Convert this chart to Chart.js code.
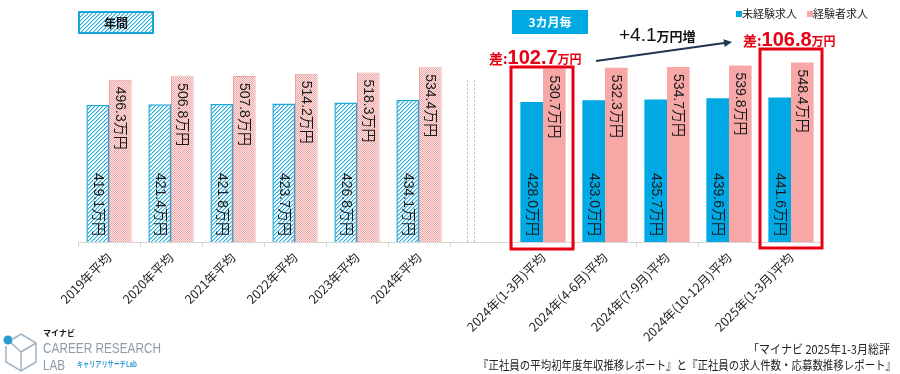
<!DOCTYPE html>
<html><head><meta charset="utf-8">
<style>html,body{margin:0;padding:0;background:#fff;}#wrap{width:900px;height:374px;}</style>
<script src="https://cdn.jsdelivr.net/npm/chart.js@4"></script>
</head><body><div id="wrap"><canvas id="c" width="900" height="374"></canvas></div>
<script>
// ---- data ----
const categories = ['2019年平均','2020年平均','2021年平均','2022年平均','2023年平均','2024年平均','','2024年(1-3月)平均','2024年(4-6月)平均','2024年(7-9月)平均','2024年(10-12月)平均','2025年(1-3月)平均'];
const inexperienced = [419.1,421.4,421.8,423.7,426.8,434.1,null,428.0,433.0,435.7,439.6,441.6];
const experienced   = [496.3,506.8,507.8,514.2,518.3,534.4,null,530.7,532.3,534.7,539.8,548.4];
const seriesNames = ['未経験求人','経験者求人'];
const annualCount = 6;
const valueUnit = '万円';
const diffValues = ['102.7','106.8'];
const increaseValue = '+4.1';
const groupLabels = ['年間','3カ月毎'];
const sourceLines = ['「マイナビ 2025年1-3月総評','『正社員の平均初年度年収推移レポート』と『正社員の求人件数・応募数推移レポート』'];

// ---- styles ----
const CYAN = '#00A9E4', PINK = '#F8A7A7', RED = '#E60012';
function makePattern(fn, size){
  const c = document.createElement('canvas'); c.width = c.height = size;
  const x = c.getContext('2d'); fn(x, size); return x.createPattern(c, 'repeat');
}
const cyanHatch = makePattern((x,s)=>{
  x.fillStyle='#fff'; x.fillRect(0,0,s,s);
  for(let i=0;i<s;i++)for(let j=0;j<s;j++){
    const k=(i+j)%4;
    if(k===0){x.fillStyle='#2BADD8';x.fillRect(i,j,1,1);}
    else if(k===1){x.fillStyle='#9BD8EE';x.fillRect(i,j,1,1);}
  }
},8);
const pinkHatch = makePattern((x,s)=>{
  for(let i=0;i<s;i++)for(let j=0;j<s;j++){
    x.fillStyle=((i+j)%2===0)?'#F0A4A4':'#FCE6E6'; x.fillRect(i,j,1,1);
  }
},4);

const FONT_NUM = '"Liberation Sans","Noto Sans CJK JP",sans-serif';
const FONT_JP = '"Noto Sans CJK JP","Liberation Sans",sans-serif';

const labelPlugin = {
  id:'vlabels',
  afterDatasetsDraw(chart){
    const ctx = chart.ctx;
    ctx.save();
    ctx.font = '14px ' + FONT_NUM;
    ctx.fillStyle = '#1a1a1a';
    ctx.textBaseline = 'middle';
    chart.data.datasets.forEach((ds,di)=>{
      chart.getDatasetMeta(di).data.forEach((bar,i)=>{
        const v = ds.data[i]; if(v==null) return;
        const t = v.toFixed(1) + valueUnit;
        ctx.save();
        if(di===0){ ctx.translate(bar.x, bar.base); ctx.rotate(Math.PI/2); ctx.textAlign='right'; ctx.fillText(t,-6,0); }
        else { ctx.translate(bar.x, bar.y); ctx.rotate(Math.PI/2); ctx.textAlign='left'; ctx.fillText(t,7,0); }
        ctx.restore();
      });
    });
    ctx.restore();
  }
};

function richText(ctx, x, y, parts){
  let cx = x;
  parts.forEach(p=>{ ctx.font = p[1]; ctx.fillText(p[0], cx, y); cx += ctx.measureText(p[0]).width; });
}

const annotPlugin = {
  id:'annot',
  afterDraw(chart){
    const ctx = chart.ctx, xs = chart.scales.x, ya = chart.chartArea;
    ctx.save();
    // dashed separators
    ctx.strokeStyle = '#BDBDBD'; ctx.lineWidth = 1; ctx.setLineDash([2,2]);
    [467.5, 474.5].forEach(px=>{ ctx.beginPath(); ctx.moveTo(px,80); ctx.lineTo(px,ya.bottom); ctx.stroke(); });
    ctx.setLineDash([]);
    // group boxes
    ctx.fillStyle = cyanHatch; ctx.fillRect(78,11,76,23);
    ctx.strokeStyle = '#1AA6D8'; ctx.lineWidth = 2; ctx.strokeRect(79,12,74,21);
    ctx.fillStyle = '#111'; ctx.font = 'bold 12px ' + FONT_JP; ctx.textAlign='center'; ctx.textBaseline='middle';
    ctx.fillText(groupLabels[0], 116, 23);
    ctx.fillStyle = CYAN; ctx.fillRect(512,10,76,24);
    ctx.fillStyle = '#fff'; ctx.fillText(groupLabels[1], 550, 22);
    // legend
    ctx.textAlign='left'; ctx.font = '11px ' + FONT_JP; ctx.textBaseline='middle';
    ctx.fillStyle = CYAN; ctx.fillRect(736,11,6,6);
    ctx.fillStyle = '#222'; ctx.fillText(seriesNames[0], 742, 14);
    ctx.fillStyle = PINK; ctx.fillRect(807,11,6,6);
    ctx.fillStyle = '#222'; ctx.fillText(seriesNames[1], 813, 14);
    // red boxes
    ctx.strokeStyle = RED; ctx.lineWidth = 3;
    const c1 = xs.getPixelForValue(7), c2 = xs.getPixelForValue(11);
    ctx.strokeRect(c1-32, 67, 62, 182);
    ctx.strokeRect(c2-31, 49, 62, 199);
    // diff labels
    ctx.fillStyle = RED; ctx.textBaseline='alphabetic';
    richText(ctx, 489, 64, [['差:','bold 14px '+FONT_JP],[diffValues[0],'bold 20px '+FONT_NUM],[valueUnit,'bold 12px '+FONT_JP]]);
    richText(ctx, 743, 46, [['差:','bold 14px '+FONT_JP],[diffValues[1],'bold 20px '+FONT_NUM],[valueUnit,'bold 12px '+FONT_JP]]);
    // increase
    ctx.fillStyle = '#111';
    richText(ctx, 619, 41, [[increaseValue,'19px '+FONT_NUM],['万円増','bold 13px '+FONT_JP]]);
    // arrow
    ctx.strokeStyle = '#1F3550'; ctx.fillStyle='#1F3550'; ctx.lineWidth = 2;
    const ax0=596, ay0=61, ax1=732, ay1=42;
    const ang = Math.atan2(ay1-ay0, ax1-ax0);
    ctx.beginPath(); ctx.moveTo(ax0,ay0); ctx.lineTo(ax1-6*Math.cos(ang), ay1-6*Math.sin(ang)); ctx.stroke();
    ctx.beginPath(); ctx.moveTo(ax1,ay1);
    ctx.lineTo(ax1-8*Math.cos(ang)+4*Math.sin(ang), ay1-8*Math.sin(ang)-4*Math.cos(ang));
    ctx.lineTo(ax1-8*Math.cos(ang)-4*Math.sin(ang), ay1-8*Math.sin(ang)+4*Math.cos(ang));
    ctx.closePath(); ctx.fill();
    // source
    ctx.fillStyle = '#222'; ctx.textAlign='right'; ctx.font = '12px ' + FONT_JP;
    ctx.fillText(sourceLines[0], 890, 354, 142);
    ctx.fillText(sourceLines[1], 896, 370, 418);
    // logo
    ctx.textAlign='left';
    ctx.strokeStyle = '#9FB4C4'; ctx.lineWidth = 1.5;
    ctx.beginPath();
    ctx.moveTo(21,334); ctx.lineTo(36,343); ctx.lineTo(36,362); ctx.lineTo(21,371); ctx.lineTo(6,362); ctx.lineTo(6,346);
    ctx.moveTo(21,334); ctx.lineTo(13,339);
    ctx.moveTo(21,352); ctx.lineTo(36,343); ctx.moveTo(21,352); ctx.lineTo(21,371); ctx.moveTo(21,352); ctx.lineTo(10,342);
    ctx.stroke();
    ctx.fillStyle = '#2E9BD6'; ctx.beginPath(); ctx.arc(8,340,4.5,0,Math.PI*2); ctx.fill();
    ctx.fillStyle = '#111'; ctx.font = 'bold 8px ' + FONT_JP; ctx.fillText('マイナビ', 43, 336);
    ctx.fillStyle = '#8C9CAA'; ctx.font = '15px "Liberation Sans",sans-serif';
    ctx.fillText('CAREER RESEARCH', 43, 353, 118);
    ctx.fillText('LAB', 43, 370, 22);
    ctx.fillStyle = '#3A9FD8'; ctx.font = 'bold 8px ' + FONT_JP; ctx.fillText('キャリアリサーチLab', 77, 367, 60);
    ctx.restore();
  }
};

const bg0 = inexperienced.map((v,i)=> i<annualCount ? cyanHatch : CYAN);
const bg1 = experienced.map((v,i)=> i<annualCount ? pinkHatch : PINK);
const bc0 = inexperienced.map((v,i)=> i<annualCount ? '#1FA8D8' : CYAN);
const bc1 = experienced.map((v,i)=> i<annualCount ? '#E9A1A1' : PINK);
const bw0 = inexperienced.map((v,i)=> i<annualCount ? 1.5 : 0);
const bw1 = experienced.map((v,i)=> i<annualCount ? 1 : 0);

new Chart(document.getElementById('c'), {
  type:'bar',
  data:{
    labels: categories,
    datasets:[
      {label:seriesNames[0], data:inexperienced, backgroundColor:bg0, borderColor:bc0, borderWidth:bw0, categoryPercentage:0.73, barPercentage:1},
      {label:seriesNames[1], data:experienced, backgroundColor:bg1, borderColor:bc1, borderWidth:bw1, categoryPercentage:0.73, barPercentage:1}
    ]
  },
  options:{
    responsive:false, animation:false, devicePixelRatio:1,
    layout:{padding:{left:78,right:78,top:13,bottom:0}},
    plugins:{legend:{display:false}, tooltip:{enabled:false}},
    scales:{
      x:{
        offset:true,
        grid:{display:true, offset:true, drawOnChartArea:false, drawTicks:true, tickLength:5, color:'#D6D6D6'},
        border:{display:true, color:'#D6D6D6'},
        ticks:{autoSkip:false, minRotation:45, maxRotation:45, padding:3, color:'#1e1e1e', font:{size:12.5, family:FONT_JP}},
        afterFit(s){ s.height = 132; }
      },
      y:{display:false, min:0, max:700}
    }
  },
  plugins:[labelPlugin, annotPlugin]
});
</script>
</body></html>
